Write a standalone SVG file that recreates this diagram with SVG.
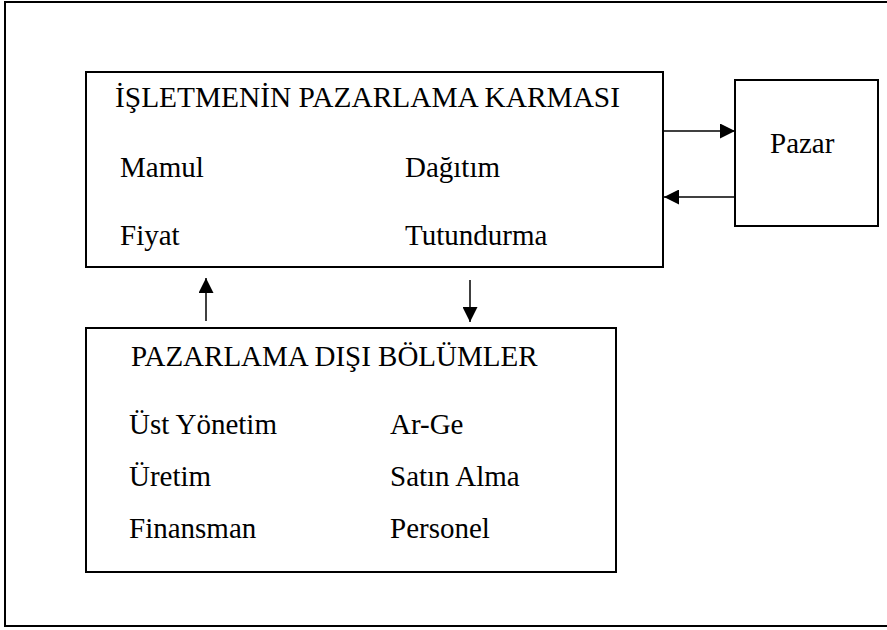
<svg xmlns="http://www.w3.org/2000/svg" width="887" height="630" viewBox="0 0 887 630">
  <style>
    .box { fill: #fff; stroke: #000; stroke-width: 2; }
    .frame { fill: none; stroke: #000; stroke-width: 2; }
    .conn { stroke: #000; stroke-width: 1.5; fill: none; marker-end: url(#arrow); }
  </style>
  <defs>
    <marker id="arrow" markerUnits="userSpaceOnUse" markerWidth="15" markerHeight="15" refX="15" refY="7.5" orient="auto">
      <path d="M0,0 L15,7.5 L0,15 z" fill="#000"/>
    </marker>
  </defs>

  <rect width="887" height="630" fill="#fff"/>
  <!-- outer frame, open on the right edge -->
  <rect class="frame" x="5" y="2" width="900" height="624"/>

  <g font-family="'Liberation Serif', 'Times New Roman', Times, serif" font-size="29" fill="#000">
    <g id="pazarlama-karmasi">
      <rect class="box" x="86" y="72" width="577" height="195"/>
      <text x="115" y="107" textLength="505" lengthAdjust="spacingAndGlyphs">İŞLETMENİN PAZARLAMA KARMASI</text>
      <text x="120" y="177">Mamul</text>
      <text x="405" y="177">Dağıtım</text>
      <text x="120" y="245">Fiyat</text>
      <text x="405" y="245">Tutundurma</text>
    </g>

    <g id="pazar">
      <rect class="box" x="735" y="80" width="143" height="146"/>
      <text x="770" y="153">Pazar</text>
    </g>

    <g id="pazarlama-disi">
      <rect class="box" x="86" y="328" width="530" height="244"/>
      <text x="131" y="366">PAZARLAMA DIŞI BÖLÜMLER</text>
      <text x="129" y="434">Üst Yönetim</text>
      <text x="390" y="434">Ar-Ge</text>
      <text x="129" y="486">Üretim</text>
      <text x="390" y="486">Satın Alma</text>
      <text x="129" y="538">Finansman</text>
      <text x="390" y="538">Personel</text>
    </g>
  </g>

  <g id="connectors">
    <line class="conn" x1="664" y1="131" x2="735" y2="131"/>
    <line class="conn" x1="735" y1="197" x2="664" y2="197"/>
    <line class="conn" x1="206" y1="321" x2="206" y2="278"/>
    <line class="conn" x1="470" y1="280" x2="470" y2="322"/>
  </g>
</svg>
